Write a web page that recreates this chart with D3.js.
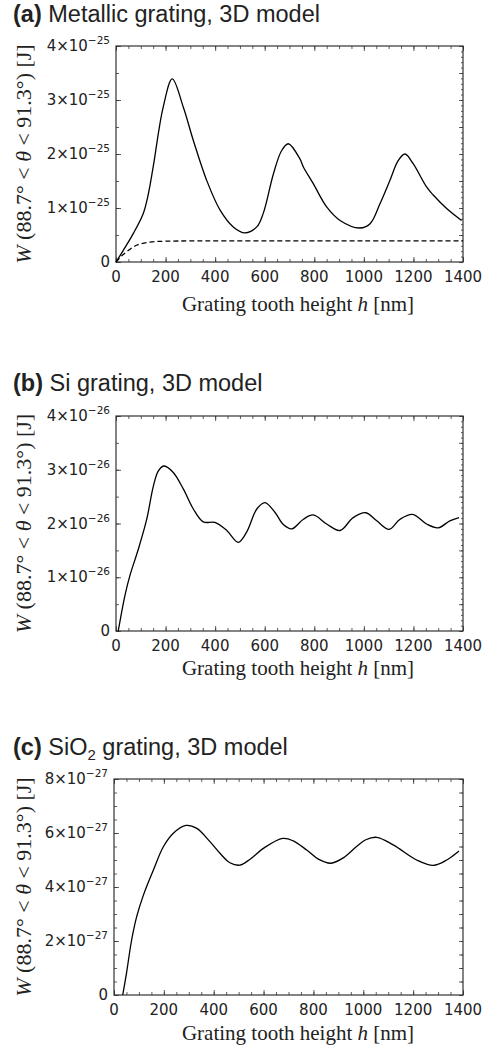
<!DOCTYPE html>
<html>
<head>
<meta charset="utf-8">
<script src="https://cdn.jsdelivr.net/npm/d3@7"></script>
<style>
  body { margin: 0; background: #fff; }
</style>
</head>
<body>
<div id="chart"></div>
<script>
// --- data (h in nm, W in J) ---
var xTicks = [0, 200, 400, 600, 800, 1000, 1200, 1400];

// (a) metallic grating, solid curve
var hMetal = [0, 30, 70, 110, 130, 150, 190, 227, 272, 312, 366, 420, 473, 520, 568, 594, 635, 668, 695, 742, 756, 796, 850, 904, 984, 1025, 1065, 1105, 1139, 1166, 1199, 1253, 1280, 1334, 1394];
var wMetal = [0, 0.22e-25, 0.53e-25, 0.9e-25, 1.25e-25, 1.76e-25, 2.86e-25, 3.39e-25, 2.86e-25, 2.25e-25, 1.51e-25, 0.96e-25, 0.65e-25, 0.54e-25, 0.65e-25, 0.9e-25, 1.63e-25, 2.06e-25, 2.19e-25, 1.91e-25, 1.76e-25, 1.45e-25, 1.02e-25, 0.77e-25, 0.63e-25, 0.71e-25, 1.08e-25, 1.51e-25, 1.88e-25, 2.0e-25, 1.82e-25, 1.39e-25, 1.24e-25, 0.99e-25, 0.77e-25];
// (a) dashed reference curve
var hMetalRef = [0, 20, 43, 83, 137, 200, 300, 600, 1000, 1400];
var wMetalRef = [0, 0.1e-25, 0.19e-25, 0.31e-25, 0.37e-25, 0.385e-25, 0.39e-25, 0.39e-25, 0.39e-25, 0.39e-25];
var yTicksMetal = [0, 1e-25, 2e-25, 3e-25, 4e-25];

// (b) Si grating
var hSi = [9, 36, 56, 90, 124, 151, 171, 194, 231, 272, 312, 352, 399, 447, 493, 527, 568, 601, 641, 675, 709, 756, 796, 850, 904, 957, 1008, 1052, 1102, 1146, 1197, 1253, 1300, 1347, 1384];
var wSi = [0, 0.66e-26, 1.03e-26, 1.52e-26, 2.08e-26, 2.7e-26, 2.98e-26, 3.07e-26, 2.95e-26, 2.64e-26, 2.27e-26, 2.03e-26, 2.02e-26, 1.87e-26, 1.65e-26, 1.84e-26, 2.27e-26, 2.39e-26, 2.21e-26, 1.98e-26, 1.9e-26, 2.08e-26, 2.16e-26, 1.99e-26, 1.87e-26, 2.11e-26, 2.2e-26, 2.05e-26, 1.89e-26, 2.08e-26, 2.17e-26, 1.99e-26, 1.92e-26, 2.05e-26, 2.11e-26];
var yTicksSi = [0, 1e-26, 2e-26, 3e-26, 4e-26];

// (c) SiO2 grating
var hSiO2 = [35, 50, 70, 91, 118, 158, 198, 238, 289, 332, 385, 425, 465, 505, 546, 599, 677, 719, 773, 820, 870, 920, 973, 1010, 1054, 1120, 1214, 1281, 1335, 1384];
var wSiO2 = [0, 0.8e-27, 2.0e-27, 2.9e-27, 3.7e-27, 4.63e-27, 5.49e-27, 5.99e-27, 6.28e-27, 6.17e-27, 5.68e-27, 5.25e-27, 4.9e-27, 4.81e-27, 5.03e-27, 5.43e-27, 5.8e-27, 5.71e-27, 5.37e-27, 5.03e-27, 4.88e-27, 5.08e-27, 5.5e-27, 5.75e-27, 5.84e-27, 5.56e-27, 5.0e-27, 4.8e-27, 5.0e-27, 5.33e-27];
var yTicksSiO2 = [0, 2e-27, 4e-27, 6e-27, 8e-27];

// --- layout ---
var svgWidth = 486;
var svgHeight = 1052;

var svg = d3.select("#chart")
  .append("svg")
  .attr("width", svgWidth)
  .attr("height", svgHeight);

var panels = [
  {
    label: "(a)", title: [" Metallic grating, 3D model"],
    left: 116, right: 463, top: 46, bottom: 262, titleY: 22, xLabelY: 311,
    yTicks: yTicksMetal, exp: -25, minorStep: 0.5e-25, rightStep: 0.1e-25,
    series: [{ h: hMetal, w: wMetal, dash: null }, { h: hMetalRef, w: wMetalRef, dash: "5,3" }]
  },
  {
    label: "(b)", title: [" Si grating, 3D model"],
    left: 116, right: 463, top: 416, bottom: 631, titleY: 391, xLabelY: 675,
    yTicks: yTicksSi, exp: -26, minorStep: 0.5e-26, rightStep: 0.1e-26,
    series: [{ h: hSi, w: wSi, dash: null }]
  },
  {
    label: "(c)", title: [" SiO", "2", " grating, 3D model"],
    left: 114, right: 463, top: 779, bottom: 995, titleY: 755, xLabelY: 1040,
    yTicks: yTicksSiO2, exp: -27, minorStep: 0.5e-27, rightStep: 0.5e-27,
    series: [{ h: hSiO2, w: wSiO2, dash: null }]
  }
];

function range(start, stop, step) {
  var out = [];
  var n = Math.round((stop - start) / step);
  for (var i = 0; i <= n; i++) out.push(start + i * step);
  return out;
}

// tick label like 4×10^-25
function sciLabel(sel, v, exp) {
  if (v === 0) { sel.text("0"); return; }
  var m = Math.round(v / Math.pow(10, exp));
  sel.append("tspan").text(m + "\u00d710");
  sel.append("tspan").attr("dy", -7).attr("font-size", "10.5px").text("\u2212" + Math.abs(exp));
}

panels.forEach(function(p) {
  var x = d3.scaleLinear().domain([0, 1400]).range([p.left, p.right]);
  var yMax = p.yTicks[p.yTicks.length - 1];
  var y = d3.scaleLinear().domain([0, yMax]).range([p.bottom, p.top]);

  var xMinor = range(0, 1400, 50);
  var yMinor = range(0, yMax, p.minorStep);
  var yRight = range(0, yMax, p.rightStep);

  function addAxis(axis, tx, ty) {
    var g = svg.append("g")
      .attr("transform", "translate(" + tx + "," + ty + ")")
      .call(axis);
    g.select(".domain").remove();
    g.selectAll("line").attr("stroke", "#333").attr("stroke-width", 0.8);
    return g;
  }

  // inward ticks on all four sides
  addAxis(d3.axisBottom(x).tickValues(xTicks).tickSize(-5).tickFormat(""), 0, p.bottom);
  addAxis(d3.axisBottom(x).tickValues(xMinor).tickSize(-3).tickFormat(""), 0, p.bottom);
  addAxis(d3.axisTop(x).tickValues(xTicks).tickSize(-5).tickFormat(""), 0, p.top);
  addAxis(d3.axisTop(x).tickValues(xMinor).tickSize(-3).tickFormat(""), 0, p.top);
  addAxis(d3.axisLeft(y).tickValues(p.yTicks).tickSize(-5).tickFormat(""), p.left, 0);
  addAxis(d3.axisLeft(y).tickValues(yMinor).tickSize(-3).tickFormat(""), p.left, 0);
  addAxis(d3.axisRight(y).tickValues(yMinor).tickSize(-4).tickFormat(""), p.right, 0);
  addAxis(d3.axisRight(y).tickValues(yRight).tickSize(-2).tickFormat(""), p.right, 0);

  // frame
  svg.append("rect")
    .attr("x", p.left).attr("y", p.top)
    .attr("width", p.right - p.left).attr("height", p.bottom - p.top)
    .attr("fill", "none").attr("stroke", "#333").attr("stroke-width", 1.2);

  // tick labels
  svg.append("g").selectAll("text")
    .data(xTicks).enter().append("text")
    .attr("x", d => x(d))
    .attr("y", p.bottom + 20)
    .attr("text-anchor", "middle")
    .attr("font-family", "DejaVu Sans")
    .attr("font-size", "15px")
    .attr("fill", "#222")
    .text(d => d);

  svg.append("g").selectAll("text")
    .data(p.yTicks).enter().append("text")
    .attr("x", p.left - 6)
    .attr("y", d => y(d) + 5)
    .attr("text-anchor", "end")
    .attr("font-family", "DejaVu Sans")
    .attr("font-size", "15px")
    .attr("fill", "#222")
    .each(function(d) { sciLabel(d3.select(this), d, p.exp); });

  // curves
  p.series.forEach(function(s) {
    var pts = s.h.map(function(h, i) { return [h, s.w[i]]; });
    var line = d3.line()
      .x(d => x(d[0]))
      .y(d => y(d[1]))
      .curve(d3.curveCatmullRom.alpha(0.5));
    svg.append("path")
      .datum(pts)
      .attr("d", line)
      .attr("fill", "none")
      .attr("stroke", "#000")
      .attr("stroke-width", 1.3)
      .attr("stroke-dasharray", s.dash);
  });

  // panel title
  var t = svg.append("text")
    .attr("x", 13).attr("y", p.titleY)
    .attr("font-family", "Liberation Sans, Arial, sans-serif")
    .attr("font-size", "23.5px")
    .attr("fill", "#222");
  t.append("tspan").attr("font-weight", "bold").text(p.label);
  p.title.forEach(function(part, i) {
    if (p.title.length === 3 && i === 1) {
      t.append("tspan").attr("font-size", "15px").attr("dy", 5).text(part);
    } else if (p.title.length === 3 && i === 2) {
      t.append("tspan").attr("dy", -5).text(part);
    } else {
      t.append("tspan").text(part);
    }
  });

  // y label
  var yl = svg.append("text")
    .attr("transform", "translate(31," + ((p.top + p.bottom) / 2) + ") rotate(-90)")
    .attr("text-anchor", "middle")
    .attr("font-family", "Liberation Serif, Times New Roman, serif")
    .attr("font-size", "22px")
    .attr("fill", "#222");
  yl.append("tspan").attr("font-style", "italic").text("W");
  yl.append("tspan").text(" (88.7\u00b0 < ");
  yl.append("tspan").attr("font-style", "italic").text("\u03b8");
  yl.append("tspan").text(" < 91.3\u00b0) [J]");

  // x label
  var xl = svg.append("text")
    .attr("x", 298).attr("y", p.xLabelY)
    .attr("text-anchor", "middle")
    .attr("font-family", "Liberation Serif, Times New Roman, serif")
    .attr("font-size", "21px")
    .attr("fill", "#222");
  xl.append("tspan").text("Grating tooth height ");
  xl.append("tspan").attr("font-style", "italic").text("h");
  xl.append("tspan").text(" [nm]");
});
</script>
</body>
</html>
